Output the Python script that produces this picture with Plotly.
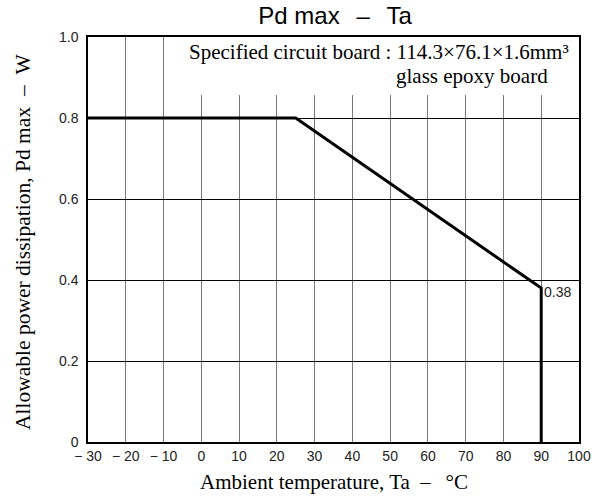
import plotly.graph_objects as go

# Data
temp = [-30, 25, 90, 90]
pd_max = [0.8, 0.8, 0.38, 0.0]
x_ticks = [-30, -20, -10, 0, 10, 20, 30, 40, 50, 60, 70, 80, 90, 100]
x_tick_text = ["− 30", "− 20", "− 10", "0", "10", "20", "30", "40", "50", "60", "70", "80", "90", "100"]
y_ticks = [0, 0.2, 0.4, 0.6, 0.8, 1.0]
y_tick_text = ["0", "0.2", "0.4", "0.6", "0.8", "1.0"]
end_label = "0.38"

serif = "Liberation Serif"
sans = "Liberation Sans"
sp = "\u2002\u2009"

fig = go.Figure()
fig.add_trace(go.Scatter(x=temp, y=pd_max, mode="lines",
                         line=dict(color="black", width=3), showlegend=False,
                         hoverinfo="skip"))

# white box behind the board note
fig.add_shape(type="rect", xref="x", yref="y", x0=-5, x1=100, y0=0.857, y1=1.0,
              fillcolor="white", line=dict(width=0), layer="between")

fig.add_annotation(x=1, y=1, xref="paper", yref="paper", xanchor="right", yanchor="middle",
                   xshift=-8, yshift=-15,
                   text="Specified circuit board : 114.3×76.1×1.6mm³",
                   showarrow=False, font=dict(family=serif, size=21, color="black"))
fig.add_annotation(x=1, y=1, xref="paper", yref="paper", xanchor="right", yanchor="middle",
                   xshift=-29, yshift=-39,
                   text="glass epoxy board",
                   showarrow=False, font=dict(family=serif, size=21, color="black"))
fig.add_annotation(x=temp[2], y=pd_max[2], xref="x", yref="y", xanchor="left", yanchor="middle",
                   text=end_label, showarrow=False, xshift=2, yshift=-4,
                   font=dict(family=sans, size=14, color="#222"), bgcolor="white", borderpad=0)

# axis titles
fig.add_annotation(x=0.5, y=0, xref="paper", yref="paper", xanchor="center", yanchor="middle",
                   yshift=-40, showarrow=False,
                   text="Ambient temperature, Ta\u2002–\u2002\u2009°C",
                   font=dict(family=serif, size=21, color="black"))
fig.add_annotation(x=0, y=0.494, xref="paper", yref="paper", xanchor="center", yanchor="middle",
                   xshift=-65, showarrow=False, textangle=-90,
                   text="Allowable power dissipation, Pd max\u2002–\u2002W",
                   font=dict(family=serif, size=21.5, color="black"))

fig.update_layout(
    width=606, height=497,
    margin=dict(l=88, r=27, t=37, b=55),
    paper_bgcolor="white", plot_bgcolor="white",
    title=dict(text=f"Pd max{sp}–{sp}Ta", x=0.553, xanchor="center", y=1 - 16 / 497,
               yref="container", yanchor="middle",
               font=dict(family=sans, size=24, color="black")),
)
fig.update_xaxes(range=[-30, 100], tickvals=x_ticks, ticktext=x_tick_text,
                 showgrid=True, gridcolor="#777", gridwidth=1,
                 showline=True, linecolor="black", linewidth=1.5, mirror=True,
                 ticks="", zeroline=False, automargin=False,
                 tickfont=dict(family=sans, size=14, color="#222"))
fig.update_yaxes(range=[0, 1.0], tickvals=y_ticks, ticktext=y_tick_text,
                 showgrid=True, gridcolor="black", gridwidth=1,
                 showline=True, linecolor="black", linewidth=1.5, mirror=True,
                 ticks="", zeroline=False, automargin=False, ticklabelstandoff=5,
                 tickfont=dict(family=sans, size=14, color="#222"))

fig.write_html("out.html", config={"displayModeBar": False},
               post_script="document.body.style.margin='0px';")
